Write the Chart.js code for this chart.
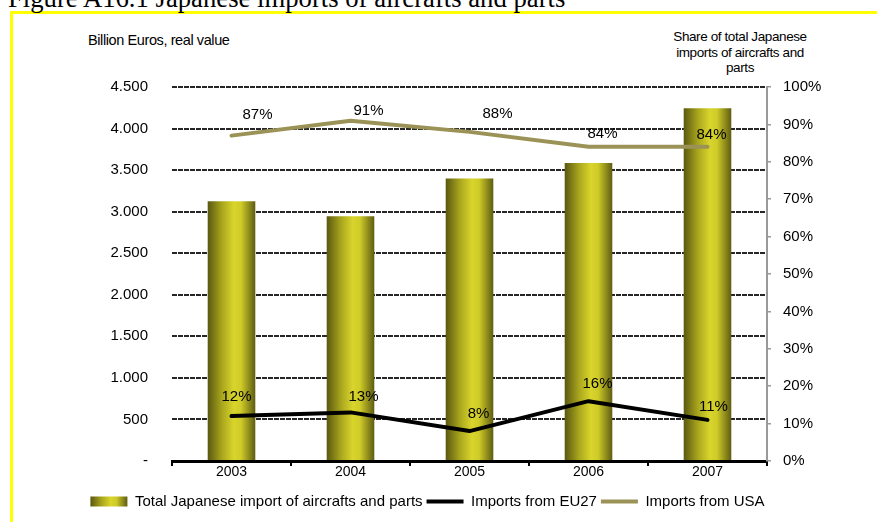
<!DOCTYPE html>
<html>
<head>
<meta charset="utf-8">
<script src="https://cdn.jsdelivr.net/npm/chart.js@4/dist/chart.umd.min.js"></script>
<style>
  html, body { margin: 0; padding: 0; background: #ffffff; overflow: hidden; }
  #wrap { position: relative; width: 877px; height: 522px; overflow: hidden; }
  #frame { position: absolute; left: 10px; top: 11px; width: 1000px; height: 700px;
           border-left: 3px solid #ffff00; border-top: 3px solid #ffff00; }
  #fig { position: absolute; left: 8px; top: -15px; font: 26.7px/27px "Liberation Serif", "Times New Roman", serif;
         color: #000; white-space: nowrap; }
  .ttl { position: absolute; font-family: "Liberation Sans", Arial, sans-serif; color: #000;
         white-space: nowrap; letter-spacing: -0.4px; }
  #lt { left: 88px; top: 32px; font-size: 14.5px; line-height: 16px; }
  #rt { left: 640px; width: 200px; top: 29px; text-align: center; font-size: 13.5px; line-height: 15.5px; }
  canvas { position: absolute; left: 0; top: 0; }
</style>
</head>
<body>
<div id="wrap">
  <div id="frame"></div>
  <div id="fig">Figure A16.1 Japanese imports of aircrafts and parts</div>
  <div class="ttl" id="lt">Billion Euros, real value</div>
  <div class="ttl" id="rt">Share of total Japanese<br>imports of aircrafts and<br>parts</div>
  <canvas id="c" width="877" height="522"></canvas>
</div>
<script>
// ---- data ----
const years = ['2003', '2004', '2005', '2006', '2007'];
const totalImports = [3125, 2945, 3400, 3585, 4245];   // million euros
const shareEU27 = [12, 13, 8, 16, 11];                 // %
const shareUSA = [87, 91, 88, 84, 84];                 // %
const seriesNames = ['Total Japanese import of aircrafts and parts', 'Imports from EU27', 'Imports from USA'];

// label nudges (style only)
const euLabelNudge = [[5, -19], [13, -16], [9, -17], [9, -17], [6, -13]];
const usaLabelNudge = [[26, -21], [18, -10], [28, -18], [14, -13], [4, -12]];

const FONT = '"Liberation Sans", Arial, sans-serif';
Chart.defaults.font.family = FONT;
Chart.defaults.color = '#000';

function barGradient(ctx, x0, x1) {
  const g = ctx.createLinearGradient(x0, 0, x1, 0);
  g.addColorStop(0, '#5a5810');
  g.addColorStop(0.3, '#a9a61e');
  g.addColorStop(0.55, '#d9d52c');
  g.addColorStop(0.7, '#cfcb28');
  g.addColorStop(1, '#5e5c12');
  return g;
}

const gradientPlugin = {
  id: 'gradientBars',
  beforeDatasetsDraw(chart) {
    const meta = chart.getDatasetMeta(0);
    meta.data.forEach(el => {
      const g = barGradient(chart.ctx, el.x - el.width / 2, el.x + el.width / 2);
      el.options = Object.assign({}, el.options, { backgroundColor: g });
    });
  },
  beforeDraw(chart) {
    const lg = chart.legend;
    if (lg && lg.legendItems && lg.legendHitBoxes && lg.legendHitBoxes[0]) {
      const hb = lg.legendHitBoxes[0];
      lg.legendItems[0].fillStyle = barGradient(chart.ctx, hb.left, hb.left + 37);
    }
  }
};

const labelPlugin = {
  id: 'pctLabels',
  afterDatasetsDraw(chart) {
    const ctx = chart.ctx;
    ctx.save();
    ctx.font = '15px ' + FONT;
    ctx.fillStyle = '#000';
    ctx.textAlign = 'center';
    ctx.textBaseline = 'middle';
    [[1, shareEU27, euLabelNudge], [2, shareUSA, usaLabelNudge]].forEach(([di, vals, nudge]) => {
      const meta = chart.getDatasetMeta(di);
      meta.data.forEach((pt, i) => {
        ctx.fillText(vals[i] + '%', pt.x + nudge[i][0], pt.y + nudge[i][1]);
      });
    });
    ctx.restore();
  }
};

function fmtThousands(v) {
  if (v === 0) return '-';
  const th = Math.floor(v / 1000), rest = v % 1000;
  return th > 0 ? th + '.' + String(rest).padStart(3, '0') : String(rest);
}

new Chart(document.getElementById('c'), {
  data: {
    labels: years,
    datasets: [
      { type: 'bar', label: seriesNames[0], data: totalImports, yAxisID: 'y', order: 3,
        backgroundColor: '#c8c424', barPercentage: 0.8, categoryPercentage: 0.5 },
      { type: 'line', label: seriesNames[1], data: shareEU27, yAxisID: 'y1', order: 1,
        borderColor: '#000000', backgroundColor: '#000000', borderWidth: 4, pointRadius: 0,
        borderCapStyle: 'round', borderJoinStyle: 'round', tension: 0 },
      { type: 'line', label: seriesNames[2], data: shareUSA, yAxisID: 'y1', order: 2,
        borderColor: '#9a9256', backgroundColor: '#9a9256', borderWidth: 4, pointRadius: 0,
        borderCapStyle: 'round', borderJoinStyle: 'round', tension: 0 }
    ]
  },
  options: {
    responsive: false,
    animation: false,
    events: [],
    layout: { padding: { left: 0, right: 22, top: 87, bottom: 3 } },
    plugins: {
      tooltip: { enabled: false },
      title: { display: false },
      legend: {
        position: 'bottom',
        labels: {
          font: { size: 15 },
          boxWidth: 37,
          boxHeight: 10,
          padding: 4,
          usePointStyle: true,
          pointStyleWidth: 37,
          generateLabels(chart) {
            return chart.data.datasets.map((ds, i) => ({
              text: ds.label,
              datasetIndex: i,
              fillStyle: i === 0 ? '#c8c424' : ds.borderColor,
              strokeStyle: i === 0 ? 'rgba(0,0,0,0)' : ds.borderColor,
              lineWidth: i === 0 ? 0 : 4,
              pointStyle: i === 0 ? 'rect' : 'line',
              hidden: false
            }));
          }
        }
      }
    },
    scales: {
      x: {
        offset: true,
        grid: { display: true, drawOnChartArea: false, drawTicks: true, tickLength: 5,
                color: '#000', lineWidth: 2, offset: true },
        border: { display: true, color: '#000', width: 3 },
        ticks: { font: { size: 14 }, padding: -2, maxRotation: 0 },
        afterFit(s) { s.height = 29; }
      },
      y: {
        position: 'left',
        min: 0, max: 4500,
        ticks: { stepSize: 500, font: { size: 15 }, padding: 24, callback: v => fmtThousands(v) },
        grid: { display: true, drawTicks: false, color: '#262626', lineWidth: 2 },
        border: { display: false, dash: [5, 1] },
        afterFit(s) { s.width = 172; }
      },
      y1: {
        position: 'right',
        min: 0, max: 100,
        ticks: { stepSize: 10, font: { size: 15 }, padding: 12, callback: v => v + '%' },
        grid: { display: true, drawOnChartArea: false, drawTicks: true, tickLength: 4,
                color: '#999999', lineWidth: 1.5 },
        border: { display: true, color: '#999999', width: 2 },
        afterFit(s) { s.width = 88; }
      }
    }
  },
  plugins: [gradientPlugin, labelPlugin]
});
</script>
</body>
</html>
